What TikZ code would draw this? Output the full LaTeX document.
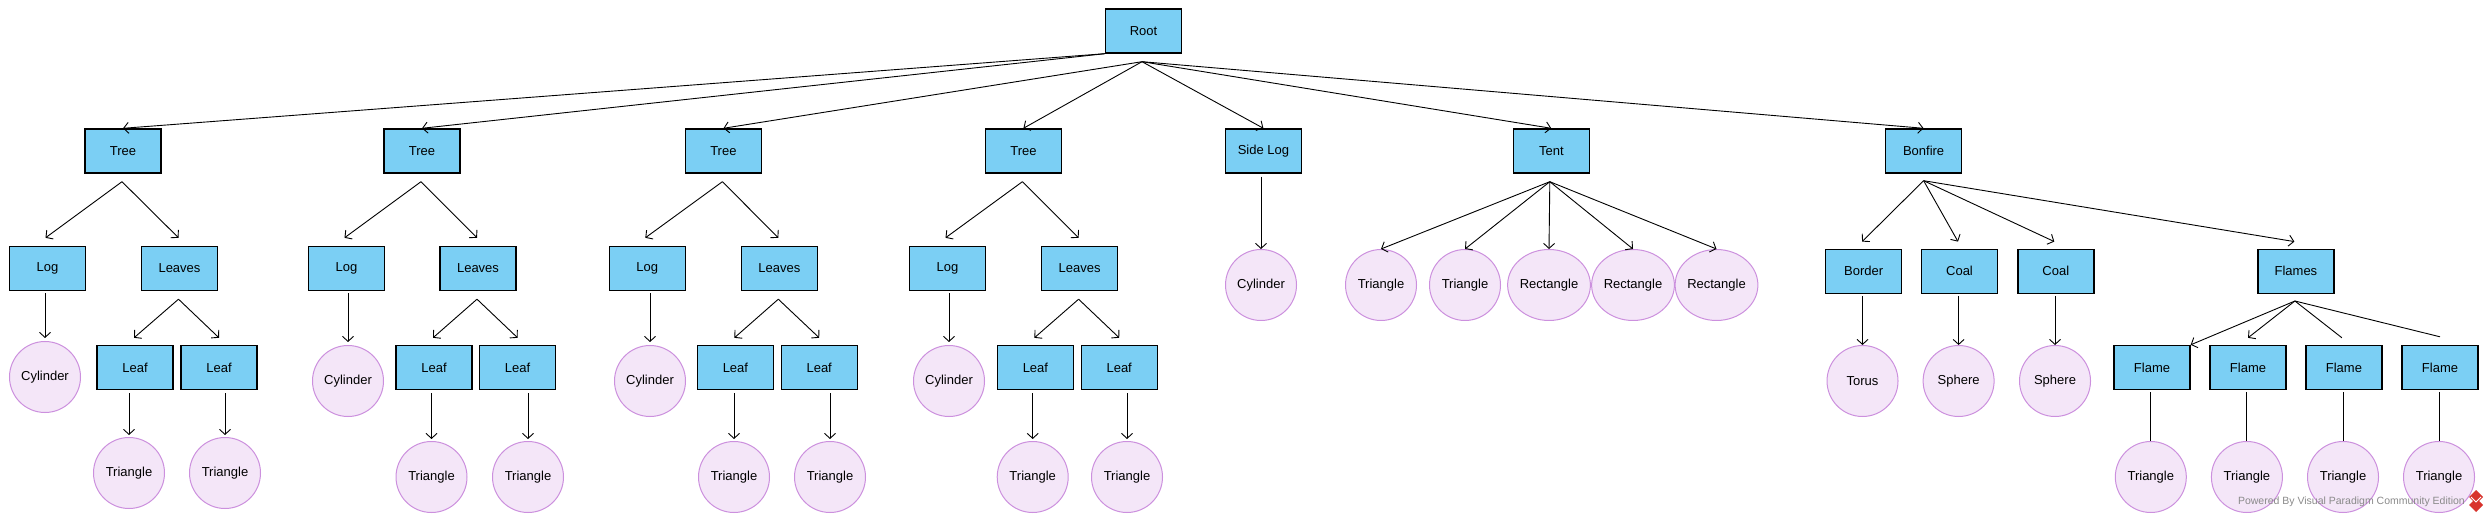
\documentclass[tikz,border=0pt]{standalone}
\usepackage{fontspec}
\setmainfont{Liberation Sans}
\usetikzlibrary{arrows.meta,shapes.geometric,calc}
\definecolor{boxfill}{HTML}{7BCFF4}
\definecolor{ellfill}{HTML}{F4E6F8}
\definecolor{elldraw}{HTML}{CC90DE}
\definecolor{wmgray}{HTML}{8A8A8A}
\definecolor{vpred}{HTML}{D8332C}
\tikzset{
  box/.style={draw=black, line width=1.4pt, fill=boxfill, minimum width=76pt, minimum height=44pt, inner sep=0pt, font=\fontsize{13}{15}\selectfont},
  shp/.style={ellipse, draw=elldraw, line width=1pt, fill=ellfill, minimum width=71pt, minimum height=71pt, inner sep=0pt, font=\fontsize{13}{15}\selectfont},
  arr/.style={line width=0.9pt, -{Straight Barb[length=5pt,width=11pt,line width=0.9pt]}},
  ln/.style={line width=0.9pt}
}
\begin{document}
\begin{tikzpicture}[x=1pt,y=-1pt]
\useasboundingbox (0,0) rectangle (2489,518);
% Root
\node[box] (root) at (1143.5,31) {Root};
% Tree 1
\node[box] (tree1) at (123,151) {Tree};
\node[box] (log1) at (47.5,268.5) {Log};
\node[box] (leaves1) at (179.5,268.5) {Leaves};
\node[box] (leaf1a) at (135,367.5) {Leaf};
\node[box] (leaf1b) at (219,367.5) {Leaf};
\node[shp] (cyl1) at (45,377) {Cylinder};
\node[shp] (tri1a) at (129,473) {Triangle};
\node[shp] (tri1b) at (225,473) {Triangle};
% Tree 2
\node[box] (tree2) at (422,151) {Tree};
\node[box] (log2) at (346.5,268.5) {Log};
\node[box] (leaves2) at (478,268.5) {Leaves};
\node[box] (leaf2a) at (434,367.5) {Leaf};
\node[box] (leaf2b) at (517.6,367.5) {Leaf};
\node[shp] (cyl2) at (348,381) {Cylinder};
\node[shp] (tri2a) at (431.5,477) {Triangle};
\node[shp] (tri2b) at (528,477) {Triangle};
% Tree 3
\node[box] (tree3) at (723.4,151) {Tree};
\node[box] (log3) at (647.3,268.5) {Log};
\node[box] (leaves3) at (779.3,268.5) {Leaves};
\node[box] (leaf3a) at (735.4,367.5) {Leaf};
\node[box] (leaf3b) at (819.2,367.5) {Leaf};
\node[shp] (cyl3) at (650,381) {Cylinder};
\node[shp] (tri3a) at (734,477) {Triangle};
\node[shp] (tri3b) at (830,477) {Triangle};
% Tree 4
\node[box] (tree4) at (1023.4,151) {Tree};
\node[box] (log4) at (947.5,268.5) {Log};
\node[box] (leaves4) at (1079.6,268.5) {Leaves};
\node[box] (leaf4a) at (1035.4,367.5) {Leaf};
\node[box] (leaf4b) at (1119.2,367.5) {Leaf};
\node[shp] (cyl4) at (949,381) {Cylinder};
\node[shp] (tri4a) at (1032.7,477) {Triangle};
\node[shp] (tri4b) at (1127,477) {Triangle};
% Side log
\node[box] (side) at (1263.4,151) {Side Log};
\node[shp] (cyl5) at (1261,285) {Cylinder};
% Tent
\node[box] (tent) at (1551.3,151) {Tent};
\node[shp] (tt1) at (1381,285) {Triangle};
\node[shp] (tt2) at (1465,285) {Triangle};
\node[shp] (tr3) at (1549,285) {Rectangle};
\node[shp] (tr4) at (1633,285) {Rectangle};
\node[shp] (tr5) at (1716.5,285) {Rectangle};
% Bonfire
\node[box] (bonfire) at (1923.6,151) {Bonfire};
\node[box] (border) at (1863.6,271.3) {Border};
\node[box] (coal1) at (1959.5,271.3) {Coal};
\node[box] (coal2) at (2055.8,271.3) {Coal};
\node[box] (flames) at (2295.9,271.3) {Flames};
\node[shp] (torus) at (1862.5,381) {Torus};
\node[shp] (sph1) at (1958.6,381) {Sphere};
\node[shp] (sph2) at (2055,381) {Sphere};
\node[box] (flame1) at (2152,367.5) {Flame};
\node[box] (flame2) at (2248,367.5) {Flame};
\node[box] (flame3) at (2343.9,367.5) {Flame};
\node[box] (flame4) at (2440,367.5) {Flame};
\node[shp] (ft1) at (2150.8,477) {Triangle};
\node[shp] (ft2) at (2246.9,477) {Triangle};
\node[shp] (ft3) at (2343,477) {Triangle};
\node[shp] (ft4) at (2439,477) {Triangle};

% Root connectors
\coordinate (rs) at ($(root.south)+(-1.5,8)$);
\draw[arr] (root.south west) -- (tree1.north);
\draw[arr] (root.south west) -- (tree2.north);
\foreach \c in {tree3,tree4,side,tent,bonfire} {
  \draw[arr] (rs) -- (\c.north);
}
% Tree sub-connectors
\foreach \t/\lg/\lv/\la/\lb/\cy/\ta/\tb in {tree1/log1/leaves1/leaf1a/leaf1b/cyl1/tri1a/tri1b, tree2/log2/leaves2/leaf2a/leaf2b/cyl2/tri2a/tri2b, tree3/log3/leaves3/leaf3a/leaf3b/cyl3/tri3a/tri3b, tree4/log4/leaves4/leaf4a/leaf4b/cyl4/tri4a/tri4b} {
  \draw[arr] ($(\t.south)+(-1,8)$) -- ($(\lg.north)+(-2,-8)$);
  \draw[arr] ($(\t.south)+(-1,8)$) -- ($(\lv.north)+(-1,-8)$);
  \draw[arr] ($(\lv.south)+(-1,8)$) -- ($(\la.north)+(-1,-7)$);
  \draw[arr] ($(\lv.south)+(-1,8)$) -- ($(\lb.north)+(0,-7)$);
  \draw[arr] ($(\lg.south -| \cy.north)+(0,2)$) -- ($(\cy.north)+(0,-3)$);
  \draw[arr] ($(\la.south -| \ta.north)+(0,3)$) -- ($(\ta.north)+(0,-2)$);
  \draw[arr] ($(\lb.south -| \tb.north)+(0,3)$) -- ($(\tb.north)+(0,-2)$);
}
% Side log
\draw[arr] ($(side.south -| cyl5.north)+(0,3)$) -- (cyl5.north);
% Tent
\coordinate (ts) at ($(tent.south)+(-1.5,8)$);
\foreach \c in {tt1,tt2,tr3,tr4,tr5} {
  \draw[arr] (ts) -- (\c.north);
}
% Bonfire
\coordinate (bs) at ($(bonfire.south)+(0,7)$);
\foreach \c in {border,coal1,coal2,flames} {
  \draw[arr] (bs) -- ($(\c.north)+(-1.5,-7)$);
}
\foreach \a/\b in {border/torus,coal1/sph1,coal2/sph2} {
  \draw[arr] ($(\a.south -| \b.north)+(0,2)$) -- (\b.north);
}
% Flames
\coordinate (fs) at ($(flames.south)+(-1,7)$);
\draw[arr] (fs) -- (flame1.north east);
\draw[arr] (fs) -- ($(flame2.north)+(0,-7)$);
\draw[ln] (fs) -- ($(flame3.north)+(-2,-7)$);
\draw[ln] (fs) -- ($(flame4.north)+(0,-8)$);
\foreach \a/\b in {flame1/ft1,flame2/ft2,flame3/ft3,flame4/ft4} {
  \draw[ln] ($(\a.south -| \b.north)+(0,2)$) -- (\b.north);
}
% Watermark
\node[anchor=east, text=wmgray, inner sep=0pt, font=\fontsize{10.5}{12}\selectfont] (wm) at (2465,501.7) {Powered By Visual Paradigm Community Edition};
\fill[vpred] (2476,490) -- (2483,497) -- (2476,504) -- (2469,497) -- cycle;
\fill[vpred] (2476,498) -- (2483,505) -- (2476,512) -- (2469,505) -- cycle;
\draw[white, line width=0.8pt] (2471,497) -- (2476,502) -- (2481,497);
\end{tikzpicture}
\end{document}
